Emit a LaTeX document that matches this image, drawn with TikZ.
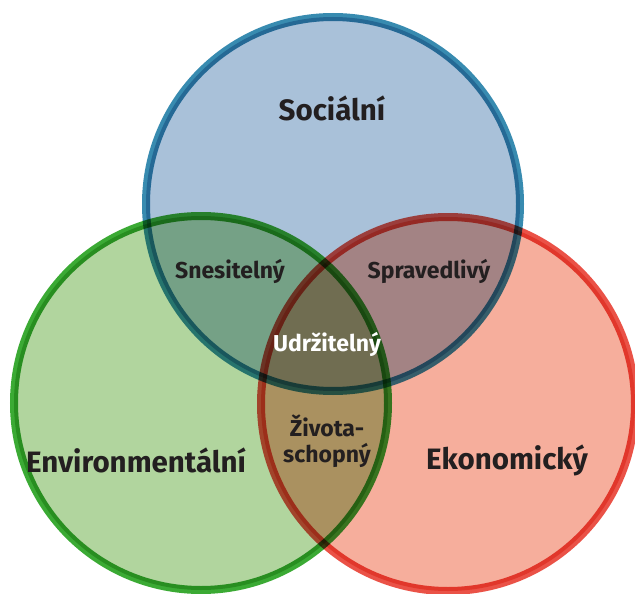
\documentclass[tikz,border=0pt]{standalone}
\usepackage{fontspec}
\setmainfont{Fira Sans}[BoldFont={Fira Sans Bold}]
\definecolor{bfill}{HTML}{A9C1D9}
\definecolor{bline}{HTML}{388BB0}
\definecolor{gfill}{HTML}{B1D59E}
\definecolor{gline}{HTML}{3BAA34}
\definecolor{rfill}{HTML}{F6AE9C}
\definecolor{rline}{HTML}{EA5247}
\definecolor{txt}{HTML}{231F20}
\tikzset{
  circ/.style={circle, line width=8pt, minimum size=374pt, inner sep=0pt, blend mode=multiply},
  big/.style={font=\fontsize{29.5}{31}\selectfont\bfseries, text=txt},
  mid/.style={font=\fontsize{23}{26}\selectfont\bfseries, text=txt, align=center},
}
\begin{document}
\begin{tikzpicture}[x=1pt,y=-1pt]
\useasboundingbox (0,0) rectangle (635,594);
\node[circ, draw=gline, fill=gfill] (env) at (201,403) {};
\node[circ, draw=rline, fill=rfill] (eko) at (448,404) {};
\node[circ, draw=bline, fill=bfill] (soc) at (333,204) {};
\node[big] (tsoc) at (332,108) {Sociální};
\node[big] (tenv) at (136,460) {Environmentální};
\node[big] (teko) at (507,460) {Ekonomický};
\node[mid] (tsne) at (230,271) {Snesitelný};
\node[mid] (tspr) at (429,271) {Spravedlivý};
\node[mid, text=white] (tudr) at (327,344) {Udržitelný};
\node[mid] (tziv) at (327,441) {Života-\\schopný};
\end{tikzpicture}
\end{document}
